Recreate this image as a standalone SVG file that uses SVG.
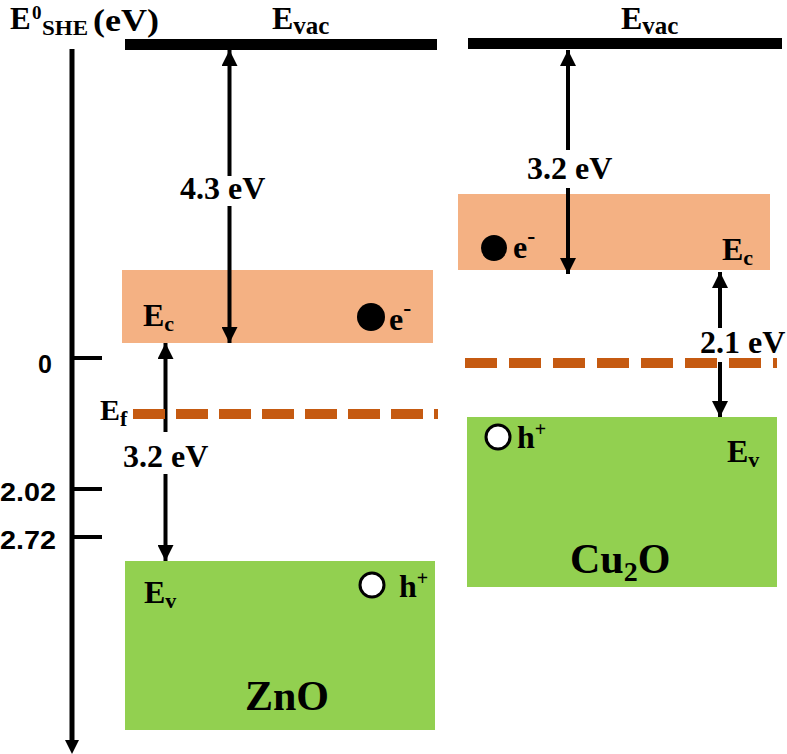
<svg xmlns="http://www.w3.org/2000/svg" width="787" height="754" viewBox="0 0 787 754">
<style>
.s{font-family:"Liberation Serif","Times New Roman",serif;font-weight:bold;fill:#000}
.n{font-family:"Liberation Sans",Arial,sans-serif;font-weight:bold;fill:#000}
.cb{fill:#F4B183}
.vb{fill:#92D050}
.bar{fill:#000}
.fermi{stroke:#C55A11;stroke-width:10;fill:none}
.arr{stroke:#000;stroke-width:4;fill:none;marker-end:url(#ah)}
.ax{stroke:#000;stroke-width:5;fill:none}
.tick{stroke:#000;stroke-width:4;fill:none}
.hole{fill:#fff;stroke:#000;stroke-width:3}
</style>
<defs>
<marker id="ah" markerUnits="userSpaceOnUse" markerWidth="16" markerHeight="16" refX="16" refY="8" orient="auto" viewBox="0 0 16 16">
<path d="M0,0 L16,8 L0,16 Z" fill="#000"/>
</marker>
</defs>
<rect width="787" height="754" fill="#fff"/>

<g id="axis">
<line class="ax" x1="72" y1="49" x2="72" y2="742"/>
<path d="M65,740 L79,740 L72,754 Z" fill="#000"/>
<line class="tick" x1="72" y1="358" x2="102" y2="358"/>
<line class="tick" x1="72" y1="489" x2="102" y2="489"/>
<line class="tick" x1="72" y1="537" x2="102" y2="537"/>
<text class="n" x="38" y="373" font-size="25">0</text>
<text class="n" x="0" y="501" font-size="25" textLength="56" lengthAdjust="spacingAndGlyphs">2.02</text>
<text class="n" x="0" y="549" font-size="25" textLength="56" lengthAdjust="spacingAndGlyphs">2.72</text>
<text class="s" x="10" y="29" font-size="31">E</text>
<text class="s" x="32" y="19" font-size="19">0</text>
<text class="s" x="42" y="35" font-size="22" textLength="46" lengthAdjust="spacingAndGlyphs">SHE</text>
<text class="s" x="93" y="31" font-size="32" textLength="66" lengthAdjust="spacingAndGlyphs">(eV)</text>
</g>

<g id="zno">
<rect class="bar" x="125" y="39" width="312" height="11"/>
<text class="s" x="272" y="29" font-size="32">E<tspan font-size="25" dy="5">vac</tspan></text>
<rect class="cb" x="122" y="270" width="311" height="73"/>
<text class="s" x="143" y="326" font-size="32">E<tspan font-size="22" dy="5">c</tspan></text>
<circle cx="371" cy="317" r="14" fill="#000"/>
<text class="s" x="389" y="330" font-size="32">e<tspan font-size="24" dy="-14">-</tspan></text>
<rect class="vb" x="125" y="561" width="310" height="169"/>
<text class="s" x="144" y="603" font-size="32">E<tspan font-size="22" dy="5">v</tspan></text>
<circle class="hole" cx="372" cy="585" r="12"/>
<text class="s" x="399" y="597" font-size="32">h<tspan font-size="20" dy="-12">+</tspan></text>
<text class="s" x="245" y="710" font-size="42">ZnO</text>
<text class="s" x="100" y="420" font-size="30">E<tspan font-size="22" dy="6">f</tspan></text>
</g>

<g id="cu2o">
<rect class="bar" x="468" y="38" width="314" height="11"/>
<text class="s" x="621" y="29" font-size="32">E<tspan font-size="25" dy="5">vac</tspan></text>
<rect class="cb" x="458" y="194" width="312" height="76"/>
<circle cx="494" cy="248" r="13" fill="#000"/>
<text class="s" x="513" y="258" font-size="32">e<tspan font-size="24" dy="-14">-</tspan></text>
<text class="s" x="722" y="260" font-size="32">E<tspan font-size="22" dy="5">c</tspan></text>
<rect class="vb" x="467" y="417" width="310" height="170"/>
<circle class="hole" cx="498" cy="437" r="12"/>
<text class="s" x="517" y="448" font-size="32">h<tspan font-size="20" dy="-12">+</tspan></text>
<text class="s" x="727" y="462" font-size="32">E<tspan font-size="22" dy="5">v</tspan></text>
<text class="s" x="570" y="573" font-size="42">Cu<tspan font-size="28" dy="8">2</tspan><tspan dy="-8">O</tspan></text>
</g>

<g id="connectors">
<line class="arr" x1="229.5" y1="176" x2="229.5" y2="50"/>
<line class="arr" x1="229.5" y1="206" x2="229.5" y2="343"/>
<text class="s" x="180" y="199" font-size="32">4.3 eV</text>
<line class="arr" x1="165.5" y1="432" x2="165.5" y2="343"/>
<line class="arr" x1="165.5" y1="474" x2="165.5" y2="561"/>
<text class="s" x="123" y="467" font-size="32">3.2 eV</text>
<line class="arr" x1="568" y1="150" x2="568" y2="50"/>
<line class="arr" x1="568" y1="188" x2="568" y2="274"/>
<text class="s" x="527" y="179" font-size="32">3.2 eV</text>
<line class="arr" x1="720" y1="328" x2="720" y2="272"/>
<line class="arr" x1="720" y1="362" x2="720" y2="417"/>
<text class="s" x="700" y="353" font-size="32">2.1 eV</text>
<line class="fermi" x1="133" y1="414" x2="438" y2="414" stroke-dasharray="32 11"/>
<line class="fermi" x1="465" y1="363" x2="777" y2="363" stroke-dasharray="32 12"/>
</g>
</svg>
